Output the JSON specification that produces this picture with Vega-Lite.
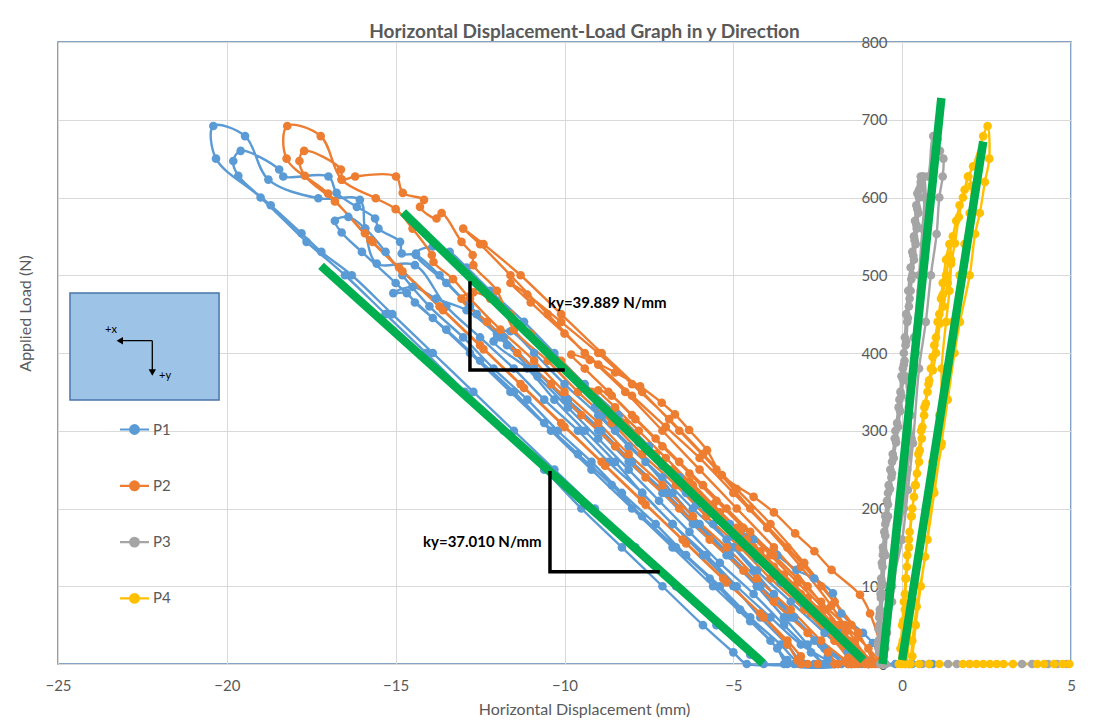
{
"$schema": "https://vega.github.io/schema/vega-lite/v6.json",
"width": 1013, "height": 622,
"autosize": {"type": "none"},
"padding": {"left": 58, "top": 42, "right": 25, "bottom": 58},
"background": "white",
"config": {"view": {"stroke": "#5b84b1", "strokeWidth": 1.5}, "font": "Lato"},
"title": {"text": "Horizontal Displacement-Load Graph in y Direction", "fontSize": 19, "font": "Lato", "fontWeight": "bold", "color": "#595959", "anchor": "middle", "dx": 20, "dy": 9, "offset": 2, "frame": "group"},
"datasets": {
"series": [
{"s":"P1","x":0.8,"y":0},{"s":"P1","x":0.3,"y":0},{"s":"P1","x":-0.2,"y":0},{"s":"P1","x":-0.5,"y":0},{"s":"P1","x":-0.87,"y":27},{"s":"P1","x":-1.16,"y":40},{"s":"P1","x":-1.8,"y":65},{"s":"P1","x":-2.05,"y":91},{"s":"P1","x":-2.6,"y":110},{"s":"P1","x":-3.13,"y":121},{"s":"P1","x":-3.7,"y":140},{"s":"P1","x":-4.4,"y":160},{"s":"P1","x":-5.1,"y":180},{"s":"P1","x":-5.8,"y":200},{"s":"P1","x":-6.4,"y":220},{"s":"P1","x":-6.1,"y":205},{"s":"P1","x":-5.6,"y":180},{"s":"P1","x":-5.0,"y":150},{"s":"P1","x":-4.4,"y":120},{"s":"P1","x":-3.8,"y":90},{"s":"P1","x":-3.2,"y":60},{"s":"P1","x":-2.6,"y":30},{"s":"P1","x":-2.2,"y":10},{"s":"P1","x":-2.0,"y":0},
{"s":"P1","x":-1.6,"y":0},{"s":"P1","x":-1.3,"y":3},{"s":"P1","x":-1.6,"y":15},{"s":"P1","x":-2.2,"y":45},{"s":"P1","x":-2.9,"y":75},{"s":"P1","x":-3.6,"y":105},{"s":"P1","x":-4.3,"y":135},{"s":"P1","x":-5.0,"y":165},{"s":"P1","x":-5.7,"y":195},{"s":"P1","x":-6.4,"y":225},{"s":"P1","x":-7.1,"y":255},{"s":"P1","x":-7.8,"y":285},{"s":"P1","x":-8.5,"y":310},{"s":"P1","x":-9.1,"y":330},{"s":"P1","x":-8.9,"y":318},{"s":"P1","x":-8.5,"y":300},{"s":"P1","x":-7.6,"y":260},{"s":"P1","x":-6.8,"y":220},{"s":"P1","x":-6.0,"y":180},{"s":"P1","x":-5.1,"y":140},{"s":"P1","x":-4.3,"y":100},{"s":"P1","x":-3.5,"y":60},{"s":"P1","x":-2.8,"y":25},{"s":"P1","x":-2.3,"y":0},
{"s":"P1","x":-1.9,"y":0},{"s":"P1","x":-1.6,"y":8},{"s":"P1","x":-2.3,"y":40},{"s":"P1","x":-3.3,"y":80},{"s":"P1","x":-4.3,"y":120},{"s":"P1","x":-5.2,"y":160},{"s":"P1","x":-6.2,"y":200},{"s":"P1","x":-7.1,"y":240},{"s":"P1","x":-8.1,"y":280},{"s":"P1","x":-9.0,"y":320},{"s":"P1","x":-10.0,"y":360},{"s":"P1","x":-10.9,"y":400},{"s":"P1","x":-11.6,"y":428},{"s":"P1","x":-12.0,"y":425},{"s":"P1","x":-12.1,"y":415},{"s":"P1","x":-11.1,"y":380},{"s":"P1","x":-10.3,"y":340},{"s":"P1","x":-9.4,"y":300},{"s":"P1","x":-8.5,"y":260},{"s":"P1","x":-7.7,"y":220},{"s":"P1","x":-6.8,"y":180},{"s":"P1","x":-5.9,"y":140},{"s":"P1","x":-5.0,"y":100},{"s":"P1","x":-4.2,"y":60},{"s":"P1","x":-3.4,"y":25},{"s":"P1","x":-2.9,"y":0},
{"s":"P1","x":-2.2,"y":0},{"s":"P1","x":-1.2,"y":0},{"s":"P1","x":-1.0,"y":3},{"s":"P1","x":-1.9,"y":40},{"s":"P1","x":-2.9,"y":80},{"s":"P1","x":-3.8,"y":120},{"s":"P1","x":-4.7,"y":160},{"s":"P1","x":-5.7,"y":200},{"s":"P1","x":-6.6,"y":240},{"s":"P1","x":-7.5,"y":280},{"s":"P1","x":-8.4,"y":320},{"s":"P1","x":-9.4,"y":360},{"s":"P1","x":-10.3,"y":400},{"s":"P1","x":-11.2,"y":440},{"s":"P1","x":-12.2,"y":480},{"s":"P1","x":-12.9,"y":510},{"s":"P1","x":-13.4,"y":530},{"s":"P1","x":-13.9,"y":537},{"s":"P1","x":-14.4,"y":528},{"s":"P1","x":-13.5,"y":490},{"s":"P1","x":-12.6,"y":450},{"s":"P1","x":-11.7,"y":410},{"s":"P1","x":-10.8,"y":370},{"s":"P1","x":-9.9,"y":330},{"s":"P1","x":-9.0,"y":290},{"s":"P1","x":-8.1,"y":250},{"s":"P1","x":-7.2,"y":210},{"s":"P1","x":-6.3,"y":170},{"s":"P1","x":-5.4,"y":130},{"s":"P1","x":-4.4,"y":90},{"s":"P1","x":-3.5,"y":50},{"s":"P1","x":-2.7,"y":15},{"s":"P1","x":-2.4,"y":0},
{"s":"P1","x":-3.0,"y":0},{"s":"P1","x":-3.6,"y":25},{"s":"P1","x":-4.5,"y":60},{"s":"P1","x":-5.4,"y":100},{"s":"P1","x":-6.4,"y":140},{"s":"P1","x":-7.3,"y":180},{"s":"P1","x":-8.3,"y":220},{"s":"P1","x":-9.2,"y":260},{"s":"P1","x":-10.2,"y":300},{"s":"P1","x":-11.1,"y":340},{"s":"P1","x":-12.1,"y":380},{"s":"P1","x":-13.0,"y":420},{"s":"P1","x":-14.0,"y":460},{"s":"P1","x":-14.8,"y":500},{"s":"P1","x":-15.3,"y":530},{"s":"P1","x":-15.9,"y":560},{"s":"P1","x":-16.4,"y":575},{"s":"P1","x":-16.8,"y":570},{"s":"P1","x":-16.6,"y":555},{"s":"P1","x":-16.0,"y":530},{"s":"P1","x":-15.0,"y":490},{"s":"P1","x":-13.9,"y":445},{"s":"P1","x":-12.8,"y":400},{"s":"P1","x":-11.6,"y":350},{"s":"P1","x":-10.4,"y":300},{"s":"P1","x":-9.2,"y":250},{"s":"P1","x":-8.0,"y":200},{"s":"P1","x":-6.8,"y":150},{"s":"P1","x":-5.6,"y":100},{"s":"P1","x":-4.5,"y":55},{"s":"P1","x":-3.7,"y":20},{"s":"P1","x":-3.4,"y":0},
{"s":"P1","x":-1.8,"y":0},{"s":"P1","x":-2.3,"y":20},{"s":"P1","x":-3.2,"y":60},{"s":"P1","x":-4.2,"y":100},{"s":"P1","x":-5.1,"y":140},{"s":"P1","x":-6.1,"y":180},{"s":"P1","x":-7.0,"y":220},{"s":"P1","x":-8.0,"y":260},{"s":"P1","x":-8.9,"y":300},{"s":"P1","x":-9.9,"y":340},{"s":"P1","x":-10.9,"y":380},{"s":"P1","x":-11.8,"y":420},{"s":"P1","x":-12.8,"y":460},{"s":"P1","x":-13.7,"y":500},{"s":"P1","x":-14.4,"y":526},{"s":"P1","x":-14.82,"y":528},{"s":"P1","x":-14.87,"y":543},{"s":"P1","x":-15.51,"y":560},{"s":"P1","x":-15.61,"y":573},{"s":"P1","x":-16.15,"y":588},{"s":"P1","x":-16.75,"y":606},{"s":"P1","x":-16.99,"y":627},{"s":"P1","x":-18.33,"y":627},{"s":"P1","x":-18.45,"y":636},{"s":"P1","x":-19.59,"y":660},{"s":"P1","x":-19.81,"y":647},{"s":"P1","x":-19.66,"y":628},{"s":"P1","x":-18.7,"y":590},{"s":"P1","x":-17.79,"y":554},{"s":"P1","x":-17.2,"y":530},{"s":"P1","x":-16.3,"y":500},{"s":"P1","x":-15.1,"y":450},{"s":"P1","x":-13.9,"y":400},{"s":"P1","x":-12.7,"y":350},{"s":"P1","x":-11.5,"y":300},{"s":"P1","x":-10.3,"y":250},{"s":"P1","x":-9.1,"y":200},{"s":"P1","x":-7.9,"y":150},{"s":"P1","x":-6.7,"y":100},{"s":"P1","x":-5.5,"y":50},{"s":"P1","x":-4.5,"y":12},{"s":"P1","x":-4.1,"y":0},
{"s":"P1","x":-2.6,"y":0},{"s":"P1","x":-2.0,"y":0},{"s":"P1","x":-1.7,"y":2},{"s":"P1","x":-2.4,"y":25},{"s":"P1","x":-3.3,"y":60},{"s":"P1","x":-4.3,"y":100},{"s":"P1","x":-5.2,"y":140},{"s":"P1","x":-6.2,"y":180},{"s":"P1","x":-7.1,"y":220},{"s":"P1","x":-8.1,"y":260},{"s":"P1","x":-9.0,"y":300},{"s":"P1","x":-10.0,"y":340},{"s":"P1","x":-10.9,"y":380},{"s":"P1","x":-11.9,"y":420},{"s":"P1","x":-12.9,"y":455},{"s":"P1","x":-13.8,"y":470},{"s":"P1","x":-14.5,"y":485},{"s":"P1","x":-15.07,"y":477},{"s":"P1","x":-14.67,"y":477},{"s":"P1","x":-14.43,"y":465},{"s":"P1","x":-13.5,"y":430},{"s":"P1","x":-12.5,"y":390},{"s":"P1","x":-11.5,"y":350},{"s":"P1","x":-10.6,"y":310},{"s":"P1","x":-9.6,"y":270},{"s":"P1","x":-8.6,"y":230},{"s":"P1","x":-7.7,"y":190},{"s":"P1","x":-6.7,"y":150},{"s":"P1","x":-5.7,"y":110},{"s":"P1","x":-4.8,"y":70},{"s":"P1","x":-3.9,"y":30},{"s":"P1","x":-3.4,"y":5},{"s":"P1","x":-3.2,"y":0},
{"s":"P1","x":-2.5,"y":0},{"s":"P1","x":-2.2,"y":2},{"s":"P1","x":-3.0,"y":25},{"s":"P1","x":-3.9,"y":60},{"s":"P1","x":-4.9,"y":100},{"s":"P1","x":-5.8,"y":140},{"s":"P1","x":-6.8,"y":180},{"s":"P1","x":-7.7,"y":220},{"s":"P1","x":-8.7,"y":260},{"s":"P1","x":-9.6,"y":300},{"s":"P1","x":-10.6,"y":340},{"s":"P1","x":-11.5,"y":380},{"s":"P1","x":-12.5,"y":420},{"s":"P1","x":-13.5,"y":460},{"s":"P1","x":-14.43,"y":513},{"s":"P1","x":-15.56,"y":515},{"s":"P1","x":-15.91,"y":560},{"s":"P1","x":-16.06,"y":597},{"s":"P1","x":-17.29,"y":599},{"s":"P1","x":-18.77,"y":623},{"s":"P1","x":-19.46,"y":679},{"s":"P1","x":-20.40,"y":692},{"s":"P1","x":-20.32,"y":650},{"s":"P1","x":-19.0,"y":600},{"s":"P1","x":-17.64,"y":543},{"s":"P1","x":-16.5,"y":500},{"s":"P1","x":-15.3,"y":450},{"s":"P1","x":-14.1,"y":400},{"s":"P1","x":-12.95,"y":350},{"s":"P1","x":-11.8,"y":300},{"s":"P1","x":-10.6,"y":250},{"s":"P1","x":-9.5,"y":200},{"s":"P1","x":-8.3,"y":150},{"s":"P1","x":-7.1,"y":100},{"s":"P1","x":-5.9,"y":50},{"s":"P1","x":-5.0,"y":15},{"s":"P1","x":-4.6,"y":0},{"s":"P1","x":-3.5,"y":0},{"s":"P1","x":-2.5,"y":0},{"s":"P1","x":-1.5,"y":0},{"s":"P1","x":-0.5,"y":0},{"s":"P1","x":0.2,"y":0},{"s":"P1","x":0.9,"y":0},

{"s":"P2","x":-0.6,"y":0},{"s":"P2","x":-0.9,"y":5},{"s":"P2","x":-1.4,"y":25},{"s":"P2","x":-2.1,"y":55},{"s":"P2","x":-2.8,"y":85},{"s":"P2","x":-3.5,"y":115},{"s":"P2","x":-4.2,"y":145},{"s":"P2","x":-4.9,"y":175},{"s":"P2","x":-5.6,"y":205},{"s":"P2","x":-6.3,"y":235},{"s":"P2","x":-6.8,"y":250},{"s":"P2","x":-6.3,"y":230},{"s":"P2","x":-5.6,"y":200},{"s":"P2","x":-4.9,"y":170},{"s":"P2","x":-4.1,"y":135},{"s":"P2","x":-3.4,"y":100},{"s":"P2","x":-2.7,"y":65},{"s":"P2","x":-2.0,"y":30},{"s":"P2","x":-1.6,"y":8},{"s":"P2","x":-1.4,"y":0},
{"s":"P2","x":-1.0,"y":0},{"s":"P2","x":-0.7,"y":3},{"s":"P2","x":-1.0,"y":20},{"s":"P2","x":-1.7,"y":50},{"s":"P2","x":-2.4,"y":80},{"s":"P2","x":-3.1,"y":110},{"s":"P2","x":-3.8,"y":140},{"s":"P2","x":-4.5,"y":170},{"s":"P2","x":-5.2,"y":200},{"s":"P2","x":-5.9,"y":230},{"s":"P2","x":-6.6,"y":260},{"s":"P2","x":-7.3,"y":290},{"s":"P2","x":-8.0,"y":320},{"s":"P2","x":-8.6,"y":345},{"s":"P2","x":-9.0,"y":352},{"s":"P2","x":-8.5,"y":330},{"s":"P2","x":-7.8,"y":300},{"s":"P2","x":-7.0,"y":265},{"s":"P2","x":-6.2,"y":230},{"s":"P2","x":-5.4,"y":195},{"s":"P2","x":-4.6,"y":160},{"s":"P2","x":-3.8,"y":125},{"s":"P2","x":-3.0,"y":90},{"s":"P2","x":-2.3,"y":55},{"s":"P2","x":-1.7,"y":25},{"s":"P2","x":-1.4,"y":5},{"s":"P2","x":-1.3,"y":0},
{"s":"P2","x":-0.7,"y":0},{"s":"P2","x":-0.6,"y":10},{"s":"P2","x":-0.95,"y":65},{"s":"P2","x":-1.25,"y":89},{"s":"P2","x":-2.09,"y":121},{"s":"P2","x":-2.6,"y":145},{"s":"P2","x":-3.17,"y":168},{"s":"P2","x":-3.8,"y":195},{"s":"P2","x":-4.4,"y":215},{"s":"P2","x":-5.34,"y":243},{"s":"P2","x":-5.78,"y":275},{"s":"P2","x":-6.31,"y":301},{"s":"P2","x":-6.73,"y":321},{"s":"P2","x":-7.12,"y":336},{"s":"P2","x":-7.76,"y":357},{"s":"P2","x":-8.5,"y":375},{"s":"P2","x":-9.25,"y":391},{"s":"P2","x":-9.8,"y":398},{"s":"P2","x":-9.4,"y":380},{"s":"P2","x":-8.7,"y":350},{"s":"P2","x":-7.9,"y":315},{"s":"P2","x":-7.1,"y":280},{"s":"P2","x":-6.3,"y":245},{"s":"P2","x":-5.5,"y":210},{"s":"P2","x":-4.7,"y":175},{"s":"P2","x":-3.9,"y":140},{"s":"P2","x":-3.1,"y":105},{"s":"P2","x":-2.3,"y":70},{"s":"P2","x":-1.7,"y":40},{"s":"P2","x":-1.2,"y":12},{"s":"P2","x":-1.0,"y":0},
{"s":"P2","x":-0.8,"y":0},{"s":"P2","x":-1.5,"y":50},{"s":"P2","x":-2.4,"y":100},{"s":"P2","x":-3.4,"y":150},{"s":"P2","x":-4.5,"y":200},{"s":"P2","x":-5.5,"y":250},{"s":"P2","x":-6.6,"y":300},{"s":"P2","x":-7.7,"y":350},{"s":"P2","x":-8.9,"y":400},{"s":"P2","x":-10.1,"y":450},{"s":"P2","x":-11.3,"y":500},{"s":"P2","x":-12.4,"y":540},{"s":"P2","x":-13.0,"y":560},{"s":"P2","x":-12.5,"y":540},{"s":"P2","x":-11.6,"y":500},{"s":"P2","x":-10.5,"y":450},{"s":"P2","x":-9.4,"y":400},{"s":"P2","x":-8.2,"y":350},{"s":"P2","x":-7.1,"y":300},{"s":"P2","x":-6.0,"y":250},{"s":"P2","x":-4.9,"y":200},{"s":"P2","x":-3.8,"y":150},{"s":"P2","x":-2.8,"y":100},{"s":"P2","x":-1.9,"y":50},{"s":"P2","x":-1.3,"y":15},{"s":"P2","x":-1.1,"y":0},
{"s":"P2","x":-0.9,"y":0},{"s":"P2","x":-1.3,"y":40},{"s":"P2","x":-2.0,"y":80},{"s":"P2","x":-2.9,"y":130},{"s":"P2","x":-3.9,"y":180},{"s":"P2","x":-4.9,"y":225},{"s":"P2","x":-5.9,"y":270},{"s":"P2","x":-6.9,"y":315},{"s":"P2","x":-8.0,"y":360},{"s":"P2","x":-9.0,"y":400},{"s":"P2","x":-10.1,"y":440},{"s":"P2","x":-11.1,"y":475},{"s":"P2","x":-11.6,"y":490},{"s":"P2","x":-11.0,"y":465},{"s":"P2","x":-10.0,"y":425},{"s":"P2","x":-9.0,"y":385},{"s":"P2","x":-8.0,"y":345},{"s":"P2","x":-7.0,"y":305},{"s":"P2","x":-6.0,"y":265},{"s":"P2","x":-5.0,"y":220},{"s":"P2","x":-4.0,"y":175},{"s":"P2","x":-3.0,"y":125},{"s":"P2","x":-2.1,"y":75},{"s":"P2","x":-1.4,"y":30},{"s":"P2","x":-1.0,"y":0},
{"s":"P2","x":-1.5,"y":0},{"s":"P2","x":-1.0,"y":2},{"s":"P2","x":-1.6,"y":30},{"s":"P2","x":-2.5,"y":70},{"s":"P2","x":-3.5,"y":110},{"s":"P2","x":-4.4,"y":150},{"s":"P2","x":-5.4,"y":190},{"s":"P2","x":-6.3,"y":230},{"s":"P2","x":-7.3,"y":270},{"s":"P2","x":-8.2,"y":310},{"s":"P2","x":-9.2,"y":350},{"s":"P2","x":-10.1,"y":390},{"s":"P2","x":-11.0,"y":425},{"s":"P2","x":-11.6,"y":450},{"s":"P2","x":-12.2,"y":470},{"s":"P2","x":-12.7,"y":478},{"s":"P2","x":-13.05,"y":470},{"s":"P2","x":-12.3,"y":440},{"s":"P2","x":-11.4,"y":400},{"s":"P2","x":-10.4,"y":360},{"s":"P2","x":-9.5,"y":320},{"s":"P2","x":-8.5,"y":280},{"s":"P2","x":-7.6,"y":240},{"s":"P2","x":-6.6,"y":200},{"s":"P2","x":-5.7,"y":160},{"s":"P2","x":-4.7,"y":120},{"s":"P2","x":-3.8,"y":80},{"s":"P2","x":-2.8,"y":40},{"s":"P2","x":-2.2,"y":15},{"s":"P2","x":-1.9,"y":0},
{"s":"P2","x":-1.6,"y":0},{"s":"P2","x":-1.3,"y":3},{"s":"P2","x":-2.0,"y":30},{"s":"P2","x":-2.9,"y":70},{"s":"P2","x":-3.9,"y":110},{"s":"P2","x":-4.8,"y":150},{"s":"P2","x":-5.8,"y":190},{"s":"P2","x":-6.7,"y":230},{"s":"P2","x":-7.7,"y":270},{"s":"P2","x":-8.6,"y":310},{"s":"P2","x":-9.6,"y":350},{"s":"P2","x":-10.5,"y":390},{"s":"P2","x":-11.5,"y":430},{"s":"P2","x":-12.0,"y":480},{"s":"P2","x":-12.70,"y":513},{"s":"P2","x":-12.72,"y":526},{"s":"P2","x":-13.05,"y":543},{"s":"P2","x":-13.64,"y":580},{"s":"P2","x":-13.79,"y":573},{"s":"P2","x":-14.28,"y":588},{"s":"P2","x":-14.16,"y":597},{"s":"P2","x":-14.79,"y":606},{"s":"P2","x":-14.99,"y":627},{"s":"P2","x":-16.20,"y":627},{"s":"P2","x":-16.60,"y":623},{"s":"P2","x":-16.62,"y":636},{"s":"P2","x":-17.71,"y":660},{"s":"P2","x":-17.85,"y":647},{"s":"P2","x":-17.69,"y":628},{"s":"P2","x":-16.8,"y":595},{"s":"P2","x":-15.91,"y":554},{"s":"P2","x":-15.68,"y":543},{"s":"P2","x":-14.9,"y":510},{"s":"P2","x":-13.7,"y":460},{"s":"P2","x":-12.5,"y":410},{"s":"P2","x":-11.3,"y":360},{"s":"P2","x":-10.1,"y":310},{"s":"P2","x":-8.9,"y":260},{"s":"P2","x":-7.7,"y":210},{"s":"P2","x":-6.5,"y":160},{"s":"P2","x":-5.3,"y":110},{"s":"P2","x":-4.2,"y":65},{"s":"P2","x":-3.4,"y":30},{"s":"P2","x":-3.0,"y":10},{"s":"P2","x":-2.8,"y":0},
{"s":"P2","x":-2.0,"y":0},{"s":"P2","x":-1.7,"y":3},{"s":"P2","x":-2.4,"y":30},{"s":"P2","x":-3.3,"y":70},{"s":"P2","x":-4.3,"y":110},{"s":"P2","x":-5.2,"y":150},{"s":"P2","x":-6.2,"y":190},{"s":"P2","x":-7.1,"y":230},{"s":"P2","x":-8.1,"y":270},{"s":"P2","x":-9.0,"y":310},{"s":"P2","x":-10.0,"y":350},{"s":"P2","x":-10.9,"y":390},{"s":"P2","x":-11.9,"y":430},{"s":"P2","x":-12.8,"y":470},{"s":"P2","x":-13.3,"y":495},{"s":"P2","x":-13.88,"y":517},{"s":"P2","x":-13.93,"y":526},{"s":"P2","x":-14.5,"y":560},{"s":"P2","x":-15.0,"y":585},{"s":"P2","x":-15.59,"y":599},{"s":"P2","x":-16.60,"y":623},{"s":"P2","x":-17.22,"y":679},{"s":"P2","x":-18.21,"y":692},{"s":"P2","x":-18.23,"y":650},{"s":"P2","x":-17.0,"y":605},{"s":"P2","x":-15.75,"y":545},{"s":"P2","x":-14.8,"y":505},{"s":"P2","x":-13.6,"y":455},{"s":"P2","x":-12.4,"y":405},{"s":"P2","x":-11.2,"y":355},{"s":"P2","x":-10.0,"y":305},{"s":"P2","x":-8.8,"y":255},{"s":"P2","x":-7.6,"y":205},{"s":"P2","x":-6.4,"y":155},{"s":"P2","x":-5.2,"y":105},{"s":"P2","x":-4.1,"y":60},{"s":"P2","x":-3.4,"y":25},{"s":"P2","x":-3.1,"y":5},{"s":"P2","x":-3.0,"y":0},{"s":"P2","x":-2.5,"y":0},{"s":"P2","x":-2.0,"y":0},{"s":"P2","x":-1.5,"y":0},{"s":"P2","x":-1.0,"y":0},{"s":"P2","x":-0.6,"y":0},

{"s":"P3","x":-0.65,"y":0},{"s":"P3","x":-0.68,"y":15},{"s":"P3","x":-0.7,"y":30},{"s":"P3","x":-0.68,"y":50},{"s":"P3","x":-0.66,"y":70},{"s":"P3","x":-0.64,"y":90},{"s":"P3","x":-0.62,"y":110},{"s":"P3","x":-0.6,"y":130},{"s":"P3","x":-0.57,"y":150},{"s":"P3","x":-0.53,"y":170},{"s":"P3","x":-0.5,"y":190},{"s":"P3","x":-0.45,"y":210},{"s":"P3","x":-0.4,"y":230},{"s":"P3","x":-0.35,"y":250},{"s":"P3","x":-0.28,"y":270},{"s":"P3","x":-0.22,"y":290},{"s":"P3","x":-0.15,"y":310},{"s":"P3","x":-0.1,"y":330},{"s":"P3","x":-0.05,"y":350},{"s":"P3","x":0.0,"y":370},{"s":"P3","x":0.05,"y":385},{"s":"P3","x":0.1,"y":370},{"s":"P3","x":0.2,"y":330},{"s":"P3","x":0.28,"y":290},{"s":"P3","x":0.15,"y":250},{"s":"P3","x":0.05,"y":200},{"s":"P3","x":-0.2,"y":150},{"s":"P3","x":-0.4,"y":100},{"s":"P3","x":-0.5,"y":50},{"s":"P3","x":-0.55,"y":10},{"s":"P3","x":-0.5,"y":0},
{"s":"P3","x":-0.62,"y":0},{"s":"P3","x":-0.72,"y":25},{"s":"P3","x":-0.7,"y":45},{"s":"P3","x":-0.66,"y":65},{"s":"P3","x":-0.63,"y":85},{"s":"P3","x":-0.6,"y":105},{"s":"P3","x":-0.58,"y":125},{"s":"P3","x":-0.55,"y":145},{"s":"P3","x":-0.5,"y":165},{"s":"P3","x":-0.47,"y":185},{"s":"P3","x":-0.42,"y":205},{"s":"P3","x":-0.36,"y":225},{"s":"P3","x":-0.3,"y":245},{"s":"P3","x":-0.25,"y":265},{"s":"P3","x":-0.18,"y":285},{"s":"P3","x":-0.12,"y":305},{"s":"P3","x":-0.06,"y":325},{"s":"P3","x":-0.02,"y":345},{"s":"P3","x":0.03,"y":365},{"s":"P3","x":0.07,"y":390},{"s":"P3","x":0.12,"y":415},{"s":"P3","x":0.17,"y":445},{"s":"P3","x":0.22,"y":470},{"s":"P3","x":0.27,"y":495},{"s":"P3","x":0.33,"y":525},{"s":"P3","x":0.37,"y":545},{"s":"P3","x":0.42,"y":565},{"s":"P3","x":0.45,"y":585},{"s":"P3","x":0.5,"y":610},{"s":"P3","x":0.55,"y":627},{"s":"P3","x":0.63,"y":627},{"s":"P3","x":0.7,"y":600},{"s":"P3","x":0.65,"y":540},{"s":"P3","x":0.55,"y":480},{"s":"P3","x":0.4,"y":400},{"s":"P3","x":0.25,"y":320},{"s":"P3","x":0.1,"y":240},{"s":"P3","x":-0.1,"y":160},{"s":"P3","x":-0.3,"y":80},{"s":"P3","x":-0.5,"y":20},{"s":"P3","x":-0.6,"y":0},
{"s":"P3","x":-0.6,"y":0},{"s":"P3","x":-0.7,"y":20},{"s":"P3","x":-0.68,"y":60},{"s":"P3","x":-0.62,"y":100},{"s":"P3","x":-0.57,"y":140},{"s":"P3","x":-0.5,"y":180},{"s":"P3","x":-0.42,"y":220},{"s":"P3","x":-0.3,"y":260},{"s":"P3","x":-0.2,"y":300},{"s":"P3","x":-0.08,"y":340},{"s":"P3","x":0.02,"y":380},{"s":"P3","x":0.1,"y":410},{"s":"P3","x":0.15,"y":440},{"s":"P3","x":0.2,"y":460},{"s":"P3","x":0.25,"y":480},{"s":"P3","x":0.3,"y":500},{"s":"P3","x":0.35,"y":520},{"s":"P3","x":0.4,"y":540},{"s":"P3","x":0.43,"y":560},{"s":"P3","x":0.48,"y":580},{"s":"P3","x":0.5,"y":600},{"s":"P3","x":0.55,"y":615},{"s":"P3","x":0.6,"y":627},{"s":"P3","x":0.75,"y":627},{"s":"P3","x":0.92,"y":679},{"s":"P3","x":1.05,"y":675},{"s":"P3","x":1.12,"y":660},{"s":"P3","x":1.22,"y":650},{"s":"P3","x":1.2,"y":627},{"s":"P3","x":1.1,"y":600},{"s":"P3","x":1.02,"y":553},{"s":"P3","x":0.85,"y":500},{"s":"P3","x":0.7,"y":440},{"s":"P3","x":0.5,"y":380},{"s":"P3","x":0.32,"y":284},{"s":"P3","x":0.17,"y":224},{"s":"P3","x":0.0,"y":160},{"s":"P3","x":-0.3,"y":100},{"s":"P3","x":-0.45,"y":40},{"s":"P3","x":-0.5,"y":0},
{"s":"P3","x":-0.55,"y":0},{"s":"P3","x":-0.62,"y":40},{"s":"P3","x":-0.58,"y":90},{"s":"P3","x":-0.5,"y":140},{"s":"P3","x":-0.42,"y":190},{"s":"P3","x":-0.32,"y":240},{"s":"P3","x":-0.2,"y":290},{"s":"P3","x":-0.1,"y":330},{"s":"P3","x":-0.02,"y":370},{"s":"P3","x":0.05,"y":400},{"s":"P3","x":0.08,"y":420},{"s":"P3","x":0.12,"y":450},{"s":"P3","x":0.18,"y":480},{"s":"P3","x":0.25,"y":510},{"s":"P3","x":0.3,"y":530},{"s":"P3","x":0.35,"y":550},{"s":"P3","x":0.38,"y":570},{"s":"P3","x":0.42,"y":590},{"s":"P3","x":0.45,"y":605},{"s":"P3","x":0.55,"y":620},{"s":"P3","x":0.65,"y":600},{"s":"P3","x":0.6,"y":560},{"s":"P3","x":0.5,"y":500},{"s":"P3","x":0.35,"y":420},{"s":"P3","x":0.2,"y":340},{"s":"P3","x":0.05,"y":260},{"s":"P3","x":-0.15,"y":180},{"s":"P3","x":-0.35,"y":100},{"s":"P3","x":-0.5,"y":30},{"s":"P3","x":-0.55,"y":0},{"s":"P3","x":0.1,"y":0},{"s":"P3","x":0.6,"y":0},{"s":"P3","x":1.36,"y":0},{"s":"P3","x":1.62,"y":0},{"s":"P3","x":2.0,"y":0},{"s":"P3","x":3.55,"y":0},{"s":"P3","x":3.85,"y":0},{"s":"P3","x":4.32,"y":0},{"s":"P3","x":4.59,"y":0},{"s":"P3","x":4.88,"y":0},

{"s":"P4","x":-0.1,"y":0},{"s":"P4","x":-0.05,"y":20},{"s":"P4","x":0.0,"y":50},{"s":"P4","x":0.05,"y":80},{"s":"P4","x":0.1,"y":110},{"s":"P4","x":0.15,"y":140},{"s":"P4","x":0.22,"y":170},{"s":"P4","x":0.3,"y":200},{"s":"P4","x":0.4,"y":230},{"s":"P4","x":0.5,"y":260},{"s":"P4","x":0.58,"y":290},{"s":"P4","x":0.65,"y":320},{"s":"P4","x":0.75,"y":350},{"s":"P4","x":0.85,"y":380},{"s":"P4","x":0.95,"y":410},{"s":"P4","x":1.05,"y":440},{"s":"P4","x":1.15,"y":470},{"s":"P4","x":1.2,"y":490},{"s":"P4","x":1.3,"y":520},{"s":"P4","x":1.4,"y":540},{"s":"P4","x":1.45,"y":520},{"s":"P4","x":1.4,"y":480},{"s":"P4","x":1.3,"y":440},{"s":"P4","x":1.17,"y":380},{"s":"P4","x":1.17,"y":284},{"s":"P4","x":0.92,"y":224},{"s":"P4","x":0.68,"y":138},{"s":"P4","x":0.43,"y":74},{"s":"P4","x":0.3,"y":30},{"s":"P4","x":0.2,"y":0},
{"s":"P4","x":-0.05,"y":0},{"s":"P4","x":0.0,"y":25},{"s":"P4","x":0.03,"y":55},{"s":"P4","x":0.08,"y":90},{"s":"P4","x":0.14,"y":125},{"s":"P4","x":0.2,"y":160},{"s":"P4","x":0.27,"y":190},{"s":"P4","x":0.35,"y":215},{"s":"P4","x":0.44,"y":245},{"s":"P4","x":0.52,"y":275},{"s":"P4","x":0.6,"y":305},{"s":"P4","x":0.7,"y":335},{"s":"P4","x":0.8,"y":365},{"s":"P4","x":0.9,"y":395},{"s":"P4","x":1.0,"y":420},{"s":"P4","x":1.1,"y":450},{"s":"P4","x":1.2,"y":475},{"s":"P4","x":1.3,"y":500},{"s":"P4","x":1.4,"y":525},{"s":"P4","x":1.5,"y":550},{"s":"P4","x":1.6,"y":570},{"s":"P4","x":1.7,"y":590},{"s":"P4","x":1.85,"y":610},{"s":"P4","x":1.95,"y":627},{"s":"P4","x":2.05,"y":615},{"s":"P4","x":2.0,"y":580},{"s":"P4","x":1.85,"y":540},{"s":"P4","x":1.7,"y":500},{"s":"P4","x":1.5,"y":440},{"s":"P4","x":1.3,"y":380},{"s":"P4","x":1.1,"y":320},{"s":"P4","x":0.9,"y":260},{"s":"P4","x":0.7,"y":200},{"s":"P4","x":0.5,"y":140},{"s":"P4","x":0.35,"y":80},{"s":"P4","x":0.2,"y":30},{"s":"P4","x":0.1,"y":0},
{"s":"P4","x":0.0,"y":0},{"s":"P4","x":0.02,"y":30},{"s":"P4","x":0.08,"y":70},{"s":"P4","x":0.12,"y":110},{"s":"P4","x":0.2,"y":150},{"s":"P4","x":0.28,"y":190},{"s":"P4","x":0.38,"y":230},{"s":"P4","x":0.48,"y":270},{"s":"P4","x":0.56,"y":300},{"s":"P4","x":0.66,"y":330},{"s":"P4","x":0.78,"y":360},{"s":"P4","x":0.91,"y":378},{"s":"P4","x":1.0,"y":400},{"s":"P4","x":1.12,"y":438},{"s":"P4","x":1.22,"y":460},{"s":"P4","x":1.35,"y":490},{"s":"P4","x":1.45,"y":515},{"s":"P4","x":1.56,"y":541},{"s":"P4","x":1.68,"y":575},{"s":"P4","x":1.8,"y":600},{"s":"P4","x":1.96,"y":627},{"s":"P4","x":2.1,"y":640},{"s":"P4","x":2.4,"y":679},{"s":"P4","x":2.53,"y":692},{"s":"P4","x":2.58,"y":650},{"s":"P4","x":2.45,"y":620},{"s":"P4","x":2.3,"y":580},{"s":"P4","x":2.16,"y":553},{"s":"P4","x":2.0,"y":500},{"s":"P4","x":1.71,"y":440},{"s":"P4","x":1.55,"y":400},{"s":"P4","x":1.35,"y":340},{"s":"P4","x":1.15,"y":280},{"s":"P4","x":0.95,"y":220},{"s":"P4","x":0.75,"y":160},{"s":"P4","x":0.55,"y":100},{"s":"P4","x":0.4,"y":50},{"s":"P4","x":0.3,"y":10},{"s":"P4","x":0.25,"y":0},{"s":"P4","x":0.5,"y":0},{"s":"P4","x":0.8,"y":0},{"s":"P4","x":1.1,"y":0},{"s":"P4","x":1.8,"y":0},{"s":"P4","x":2.0,"y":0},{"s":"P4","x":2.2,"y":0},{"s":"P4","x":2.4,"y":0},{"s":"P4","x":2.6,"y":0},{"s":"P4","x":2.8,"y":0},{"s":"P4","x":3.0,"y":0},{"s":"P4","x":3.28,"y":0},{"s":"P4","x":4.0,"y":0},{"s":"P4","x":4.2,"y":0},{"s":"P4","x":4.5,"y":0},{"s":"P4","x":4.75,"y":0},{"s":"P4","x":4.95,"y":0}
],
"green": [
{"g":"a","x":-17.21,"y":512},{"g":"a","x":-4.12,"y":1},
{"g":"b","x":-14.78,"y":581},{"g":"b","x":-1.15,"y":5},
{"g":"c","x":-0.58,"y":0},{"g":"c","x":1.16,"y":728},
{"g":"d","x":0.0,"y":5},{"g":"d","x":2.4,"y":672}
],
"black": [
{"k":"u","x":-12.8,"y":490},{"k":"u","x":-12.8,"y":378.1},{"k":"u","x":-10.045,"y":378.1},
{"k":"l","x":-10.43,"y":246},{"k":"l","x":-10.43,"y":118.7},{"k":"l","x":-7.23,"y":118.7}
],
"arrows": [
{"a":"h","x":-22.207,"y":415.8},{"a":"h","x":-23.15,"y":415.8},
{"a":"v","x":-22.207,"y":415.8},{"a":"v","x":-22.207,"y":374}
],
"heads": [
{"shape":"triangle-left","x":-23.17,"y":415.8},
{"shape":"triangle-down","x":-22.207,"y":375}
],
"notes": [
{"t":"ky=39.889 N/mm","x":-10.49,"y":464.3},
{"t":"ky=37.010 N/mm","x":-14.19,"y":157.3}
],
"dirs": [
{"t":"+x","x":-23.43,"y":429.6},
{"t":"+y","x":-21.83,"y":370.4}
],
"box": [
{"x":-24.645,"x2":-20.23,"y":477.2,"y2":339.5}
]
},
"layer": [
{
"data": {"name": "box"},
"mark": {"type": "rect", "fill": "#9dc3e6", "stroke": "#4a76a8", "strokeWidth": 1.5},
"encoding": {
"x": {"field": "x", "type": "quantitative", "scale": {"domain": [-25, 5], "nice": false, "zero": false},
"axis": {"values": [-25, -20, -15, -10, -5, 0, 5], "title": "Horizontal Displacement (mm)", "domain": false, "ticks": false, "tickSize": 0, "labelPadding": 14, "labelFontSize": 15, "labelColor": "#595959", "labelFont": "Lato", "labelFlush": false, "titleFont": "Lato", "titleFontSize": 16, "titleFontWeight": "normal", "titleColor": "#595959", "titleX": 526, "titleY": 50, "titleBaseline": "alphabetic", "titleAlign": "center", "gridColor": "#d9d9d9", "gridWidth": 1}},
"x2": {"field": "x2"},
"y": {"field": "y", "type": "quantitative", "scale": {"domain": [0, 800], "nice": false, "zero": false},
"axis": {"values": [0, 100, 200, 300, 400, 500, 600, 700, 800], "title": "Applied Load (N)", "offset": -844, "domain": false, "ticks": false, "tickSize": 0, "labelPadding": 15, "labelFontSize": 15, "labelColor": "#595959", "labelFont": "Lato", "labelFlush": false, "titleFont": "Lato", "titleFontSize": 16, "titleFontWeight": "normal", "titleColor": "#595959", "titleX": -872, "titleY": 271, "titleAngle": -90, "titleAlign": "center", "titleBaseline": "alphabetic", "gridColor": "#d9d9d9", "gridWidth": 1}},
"y2": {"field": "y2"}
}
},
{
"data": {"name": "arrows"},
"mark": {"type": "line", "color": "black", "strokeWidth": 1.3},
"encoding": {"x": {"field": "x", "type": "quantitative"}, "y": {"field": "y", "type": "quantitative"}, "detail": {"field": "a"}, "order": {"value": null}}
},
{
"data": {"name": "heads"},
"mark": {"type": "point", "filled": true, "color": "black", "size": 55, "opacity": 1},
"encoding": {"x": {"field": "x", "type": "quantitative"}, "y": {"field": "y", "type": "quantitative"}, "shape": {"field": "shape", "type": "nominal", "scale": null}}
},
{
"data": {"name": "dirs"},
"mark": {"type": "text", "fontSize": 11, "font": "Lato", "color": "black", "align": "center", "baseline": "middle"},
"encoding": {"x": {"field": "x", "type": "quantitative"}, "y": {"field": "y", "type": "quantitative"}, "text": {"field": "t"}}
},
{
"data": {"name": "series"},
"mark": {"type": "line", "strokeWidth": 2.4, "interpolate": "catmull-rom", "clip": false, "point": {"filled": true, "size": 75, "opacity": 1}},
"encoding": {
"x": {"field": "x", "type": "quantitative"},
"y": {"field": "y", "type": "quantitative"},
"color": {"field": "s", "type": "nominal", "scale": {"domain": ["P1", "P2", "P3", "P4"], "range": ["#5b9bd5", "#ed7d31", "#a5a5a5", "#ffc000"]},
"legend": {"orient": "none", "legendX": 66, "legendY": 377, "direction": "vertical", "title": null, "padding": 0, "symbolType": "M-1.6,0L1.6,0M-0.48,0A0.48,0.48,0,1,0,0.48,0A0.48,0.48,0,1,0,-0.48,0Z", "symbolSize": 328, "symbolStrokeWidth": 2.2, "labelFontSize": 15, "labelFont": "Lato", "labelColor": "#595959", "labelOffset": 8, "rowPadding": 36.3,
"encode": {"symbols": {"update": {"fill": {"scale": "color", "field": "value"}, "stroke": {"scale": "color", "field": "value"}, "opacity": {"value": 1}}}}}},
"order": {"value": null}
}
},
{
"data": {"name": "green"},
"mark": {"type": "line", "color": "#00b050", "strokeWidth": 8.5, "strokeCap": "butt"},
"encoding": {"x": {"field": "x", "type": "quantitative"}, "y": {"field": "y", "type": "quantitative"}, "detail": {"field": "g"}}
},
{
"data": {"name": "black"},
"mark": {"type": "line", "color": "black", "strokeWidth": 3.5, "strokeCap": "square"},
"encoding": {"x": {"field": "x", "type": "quantitative"}, "y": {"field": "y", "type": "quantitative"}, "detail": {"field": "k"}, "order": {"value": null}}
},
{
"data": {"name": "notes"},
"mark": {"type": "text", "fontSize": 15, "font": "Lato", "fontWeight": "bold", "color": "black", "align": "left", "baseline": "middle"},
"encoding": {"x": {"field": "x", "type": "quantitative"}, "y": {"field": "y", "type": "quantitative"}, "text": {"field": "t"}}
}
]
}
